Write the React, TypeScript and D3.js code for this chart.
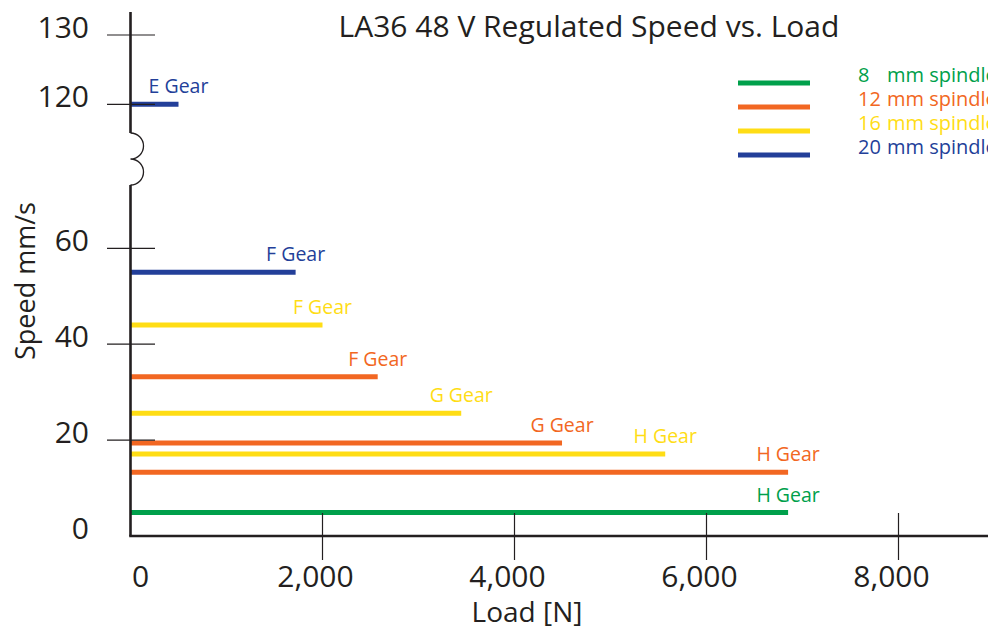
import * as d3 from "d3";

const title = "LA36 48 V Regulated Speed vs. Load";

// spindle sizes (mm) and their colours
const spindles = ["8", "12", "16", "20"];
const spindleColors = ["#00a04b", "#f26722", "#ffdd15", "#233f99"];

// gear rows: name, spindle, regulated speed (mm/s), max load (N)
const gearNames = ["E Gear", "F Gear", "F Gear", "F Gear", "G Gear", "G Gear", "H Gear", "H Gear", "H Gear"];
const gearSpindle = ["20", "20", "16", "12", "16", "12", "16", "12", "8"];
const gearSpeed = [120, 55, 44, 33.2, 25.6, 19.4, 17.1, 13.3, 4.9];
const gearLoad = [500, 1720, 2000, 2575, 3445, 4495, 5570, 6850, 6850];

const yTicks = [0, 20, 40, 60, 120, 130];
const xTicks = [0, 2000, 4000, 6000, 8000];

const W = 988;
const H = 629;
const font = "'Open Sans', 'Noto Sans', sans-serif";
const ink = "#231f20";

export default function App() {
  // broken y axis: 0-60 lower part, 120-130 upper part
  const y = d3.scaleLinear().domain([0, 60, 120, 130]).range([536, 248.3, 104.3, 35]);
  const x = d3.scaleLinear().domain([0, 8000]).range([130.5, 898.5]);
  const color = d3.scaleOrdinal<string, string>().domain(spindles).range(spindleColors);
  const fmt = d3.format(",");

  const x0 = x(0);
  const breakTop = 133;
  const breakBottom = 185;
  const breakMid = (breakTop + breakBottom) / 2;
  const r = (breakMid - breakTop) / 2;

  const squiggle = d3.path();
  squiggle.moveTo(x0, breakTop);
  squiggle.arc(x0, breakTop + r, r, -Math.PI / 2, Math.PI / 2, false);
  squiggle.arc(x0, breakMid + r, r, -Math.PI / 2, Math.PI / 2, false);

  const legendX = 738;
  const legendY = d3.scaleLinear().domain([0, 1]).range([83, 107]);

  return (
    <svg width={W} height={H} style={{ position: "absolute", left: 0, top: 0 }} fontFamily={font}>
      <rect width={W} height={H} fill="#fff" />

      <text x={589} y={37} fontSize={30} textAnchor="middle" fill={ink}>
        {title}
      </text>

      {/* gear lines */}
      {gearNames.map((name, i) => {
        const c = color(gearSpindle[i]);
        return (
          <g key={`gear-${i}`}>
            <line x1={x0} x2={x(gearLoad[i])} y1={y(gearSpeed[i])} y2={y(gearSpeed[i])} stroke={c} strokeWidth={5} />
            <text x={x(gearLoad[i])} y={y(gearSpeed[i]) - 11} fontSize={19.5} textAnchor="middle" fill={c}>
              {name}
            </text>
          </g>
        );
      })}

      {/* y axis */}
      <line x1={x0} x2={x0} y1={12} y2={breakTop} stroke={ink} strokeWidth={2.6} />
      <line x1={x0} x2={x0} y1={breakBottom} y2={y(0)} stroke={ink} strokeWidth={2.6} />
      <path d={squiggle.toString()} fill="none" stroke={ink} strokeWidth={1.3} />
      {yTicks.map((t) => (
        <g key={`yt-${t}`}>
          {t > 0 && <line x1={107} x2={155} y1={y(t)} y2={y(t)} stroke={ink} strokeWidth={1.2} />}
          <text x={89} y={y(t) + 3} fontSize={30} textAnchor="end" fill={ink}>
            {t}
          </text>
        </g>
      ))}
      <text transform={`translate(35, 281) rotate(-90)`} fontSize={27} textAnchor="middle" fill={ink}>
        Speed mm/s
      </text>

      {/* x axis */}
      <line x1={x0 - 1.3} x2={W} y1={y(0)} y2={y(0)} stroke={ink} strokeWidth={2.6} />
      {xTicks.map((t) => (
        <g key={`xt-${t}`}>
          {t > 0 && <line x1={x(t)} x2={x(t)} y1={513} y2={560} stroke={ink} strokeWidth={1.2} />}
          <text x={t === 0 ? x(t) + 10 : x(t) - 7} y={587} fontSize={30} textAnchor="middle" fill={ink}>
            {fmt(t)}
          </text>
        </g>
      ))}
      <text x={527} y={622} fontSize={28} textAnchor="middle" fill={ink}>
        Load [N]
      </text>

      {/* legend */}
      {spindles.map((s, i) => (
        <g key={`leg-${s}`}>
          <line x1={legendX} x2={legendX + 72} y1={legendY(i)} y2={legendY(i)} stroke={color(s)} strokeWidth={5} />
          <text x={858} y={legendY(i) - 1} fontSize={20} fill={color(s)}>
            {s}
            <tspan x={887}>mm spindle</tspan>
          </text>
        </g>
      ))}
    </svg>
  );
}
